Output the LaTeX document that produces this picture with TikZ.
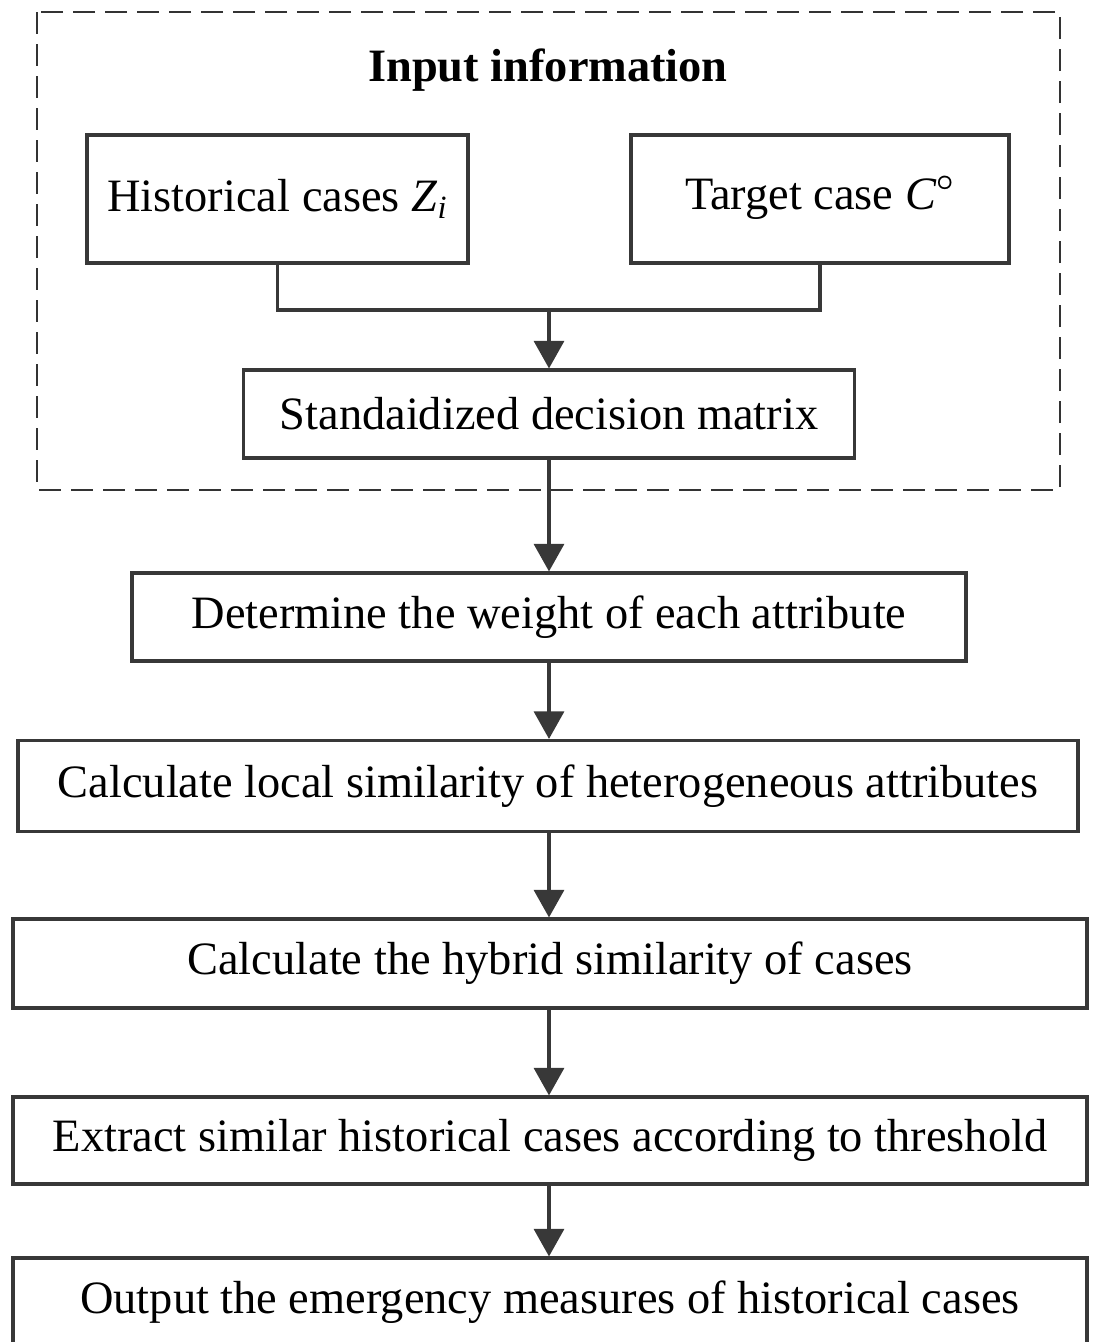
\documentclass[tikz,border=0pt]{standalone}
\usepackage{amsmath}
\usepackage{fontspec}
\setmainfont{Liberation Serif}
\usepackage{tikz}
\usetikzlibrary{arrows.meta}

\begin{document}
\begin{tikzpicture}[
  line/.style={draw=black!78, line width=1.8pt},
  box/.style={line, rectangle, inner sep=0pt, minimum height=1.76cm,
              font=\fontsize{26.4}{30}\selectfont},
  arr/.style={line, -{Triangle[width=0.6cm, length=0.55cm]}},
  frame/.style={draw=black!80, line width=1.4pt, dash pattern=on 0.44cm off 0.2cm}
]
\clip (0,0) rectangle (21.84,-26.84);

\draw[frame] (0.74,-0.24) rectangle (21.2,-9.8);
\draw (10.96,-1.4) node (title) [font=\fontsize{26.4}{30}\selectfont\bfseries] {Input information};

\draw (5.55,-3.98)  node (hist) [box, minimum width=7.62cm, minimum height=2.56cm] {Historical cases \textit{Z}\textsubscript{\textit{i}}};
\draw (16.40,-3.98) node (targ) [box, minimum width=7.56cm, minimum height=2.56cm] {Target case \textit{C}\smash{\raisebox{0.15ex}{\textsuperscript{$\boldsymbol{\circ}$}}}};
\coordinate (join) at (10.98,-6.2);
\draw[line] (hist.south) |- (join) -| (targ.south);

\draw (10.98,-8.28) node (std) [box, minimum width=12.22cm] {Standaidized decision matrix};
\draw[arr] (join) -- (std.north);

\draw (10.98,-12.34) node (det) [box, minimum width=16.68cm] {Determine the weight of each attribute};
\draw[arr] (std.south) -- (det.north);

\draw (10.96,-15.72) node (loc) [box, minimum width=21.2cm, minimum height=1.82cm] {Calculate local similarity of heterogeneous attributes};
\draw[arr] (det.south) -- (det.south |- loc.north);

\draw (11.0,-19.27) node (hyb) [box, minimum width=21.48cm, minimum height=1.78cm] {Calculate the hybrid similarity of cases};
\draw[arr] (det.south |- loc.south) -- (det.south |- hyb.north);

\draw (11.0,-22.81) node (ext) [box, minimum width=21.48cm, minimum height=1.74cm] {Extract similar historical cases according to threshold};
\draw[arr] (det.south |- hyb.south) -- (det.south |- ext.north);

\draw (11.0,-26.04) node (out) [box, minimum width=21.48cm] {Output the emergency measures of historical cases};
\draw[arr] (det.south |- ext.south) -- (det.south |- out.north);
\end{tikzpicture}
\end{document}
